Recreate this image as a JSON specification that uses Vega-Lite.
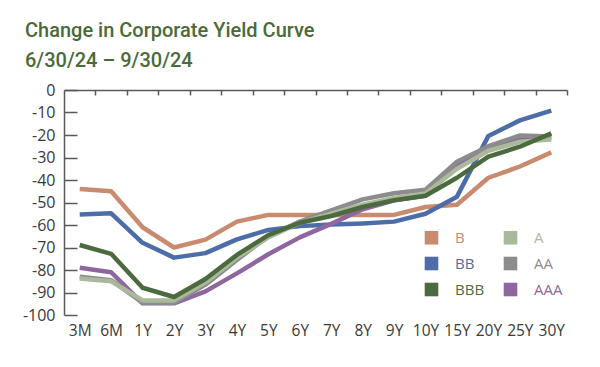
{
  "$schema": "https://vega.github.io/schema/vega-lite/v6.json",
  "autosize": "none",
  "width": 503,
  "height": 225,
  "padding": {"left": 64, "top": 90, "right": 33, "bottom": 52},
  "background": "white",
  "title": {
    "text": ["Change in Corporate Yield Curve", "6/30/24 – 9/30/24"],
    "anchor": "start",
    "frame": "group",
    "font": "Roboto",
    "fontSize": 20,
    "fontWeight": 500,
    "color": "#4a6a3a",
    "lineHeight": 30,
    "dx": -39,
    "dy": -11,
    "offset": 0
  },
  "config": {"view": {"stroke": null}},
  "data": {
    "values": [
      {"rating": "B", "tenor": "3M", "value": -44},
      {"rating": "B", "tenor": "6M", "value": -45},
      {"rating": "B", "tenor": "1Y", "value": -61},
      {"rating": "B", "tenor": "2Y", "value": -70},
      {"rating": "B", "tenor": "3Y", "value": -66.5},
      {"rating": "B", "tenor": "4Y", "value": -58.5},
      {"rating": "B", "tenor": "5Y", "value": -55.5},
      {"rating": "B", "tenor": "6Y", "value": -55.5},
      {"rating": "B", "tenor": "7Y", "value": -55.5},
      {"rating": "B", "tenor": "8Y", "value": -55.5},
      {"rating": "B", "tenor": "9Y", "value": -55.5},
      {"rating": "B", "tenor": "10Y", "value": -52},
      {"rating": "B", "tenor": "15Y", "value": -51},
      {"rating": "B", "tenor": "20Y", "value": -39},
      {"rating": "B", "tenor": "25Y", "value": -34},
      {"rating": "B", "tenor": "30Y", "value": -27.7},
      {"rating": "BB", "tenor": "3M", "value": -55.3},
      {"rating": "BB", "tenor": "6M", "value": -54.8},
      {"rating": "BB", "tenor": "1Y", "value": -67.9},
      {"rating": "BB", "tenor": "2Y", "value": -74.5},
      {"rating": "BB", "tenor": "3Y", "value": -72.5},
      {"rating": "BB", "tenor": "4Y", "value": -66.4},
      {"rating": "BB", "tenor": "5Y", "value": -62.2},
      {"rating": "BB", "tenor": "6Y", "value": -60.5},
      {"rating": "BB", "tenor": "7Y", "value": -59.8},
      {"rating": "BB", "tenor": "8Y", "value": -59.3},
      {"rating": "BB", "tenor": "9Y", "value": -58.5},
      {"rating": "BB", "tenor": "10Y", "value": -55},
      {"rating": "BB", "tenor": "15Y", "value": -47.4},
      {"rating": "BB", "tenor": "20Y", "value": -20.4},
      {"rating": "BB", "tenor": "25Y", "value": -13.5},
      {"rating": "BB", "tenor": "30Y", "value": -9.2},
      {"rating": "AAA", "tenor": "3M", "value": -79},
      {"rating": "AAA", "tenor": "6M", "value": -81},
      {"rating": "AAA", "tenor": "1Y", "value": -94.8},
      {"rating": "AAA", "tenor": "2Y", "value": -94.8},
      {"rating": "AAA", "tenor": "3Y", "value": -89.5},
      {"rating": "AAA", "tenor": "4Y", "value": -81.5},
      {"rating": "AAA", "tenor": "5Y", "value": -73},
      {"rating": "AAA", "tenor": "6Y", "value": -65.5},
      {"rating": "AAA", "tenor": "7Y", "value": -59.5},
      {"rating": "AAA", "tenor": "8Y", "value": -53},
      {"rating": "AAA", "tenor": "9Y", "value": -49},
      {"rating": "AAA", "tenor": "10Y", "value": -47},
      {"rating": "AAA", "tenor": "15Y", "value": -33.5},
      {"rating": "AAA", "tenor": "20Y", "value": -25.8},
      {"rating": "AAA", "tenor": "25Y", "value": -22},
      {"rating": "AAA", "tenor": "30Y", "value": -21},
      {"rating": "AA", "tenor": "3M", "value": -83},
      {"rating": "AA", "tenor": "6M", "value": -84.5},
      {"rating": "AA", "tenor": "1Y", "value": -94.5},
      {"rating": "AA", "tenor": "2Y", "value": -94.5},
      {"rating": "AA", "tenor": "3Y", "value": -86.5},
      {"rating": "AA", "tenor": "4Y", "value": -75.5},
      {"rating": "AA", "tenor": "5Y", "value": -65},
      {"rating": "AA", "tenor": "6Y", "value": -58.5},
      {"rating": "AA", "tenor": "7Y", "value": -53.5},
      {"rating": "AA", "tenor": "8Y", "value": -48.6},
      {"rating": "AA", "tenor": "9Y", "value": -45.9},
      {"rating": "AA", "tenor": "10Y", "value": -44.3},
      {"rating": "AA", "tenor": "15Y", "value": -31.9},
      {"rating": "AA", "tenor": "20Y", "value": -25},
      {"rating": "AA", "tenor": "25Y", "value": -20.2},
      {"rating": "AA", "tenor": "30Y", "value": -20.7},
      {"rating": "A", "tenor": "3M", "value": -83.8},
      {"rating": "A", "tenor": "6M", "value": -85},
      {"rating": "A", "tenor": "1Y", "value": -93.5},
      {"rating": "A", "tenor": "2Y", "value": -93.5},
      {"rating": "A", "tenor": "3Y", "value": -85.5},
      {"rating": "A", "tenor": "4Y", "value": -74.5},
      {"rating": "A", "tenor": "5Y", "value": -65.5},
      {"rating": "A", "tenor": "6Y", "value": -59},
      {"rating": "A", "tenor": "7Y", "value": -55},
      {"rating": "A", "tenor": "8Y", "value": -51},
      {"rating": "A", "tenor": "9Y", "value": -48},
      {"rating": "A", "tenor": "10Y", "value": -46},
      {"rating": "A", "tenor": "15Y", "value": -35},
      {"rating": "A", "tenor": "20Y", "value": -27},
      {"rating": "A", "tenor": "25Y", "value": -23},
      {"rating": "A", "tenor": "30Y", "value": -22},
      {"rating": "BBB", "tenor": "3M", "value": -68.9},
      {"rating": "BBB", "tenor": "6M", "value": -72.8},
      {"rating": "BBB", "tenor": "1Y", "value": -87.9},
      {"rating": "BBB", "tenor": "2Y", "value": -92},
      {"rating": "BBB", "tenor": "3Y", "value": -84},
      {"rating": "BBB", "tenor": "4Y", "value": -73.3},
      {"rating": "BBB", "tenor": "5Y", "value": -64.5},
      {"rating": "BBB", "tenor": "6Y", "value": -59},
      {"rating": "BBB", "tenor": "7Y", "value": -56},
      {"rating": "BBB", "tenor": "8Y", "value": -52},
      {"rating": "BBB", "tenor": "9Y", "value": -49},
      {"rating": "BBB", "tenor": "10Y", "value": -47},
      {"rating": "BBB", "tenor": "15Y", "value": -39},
      {"rating": "BBB", "tenor": "20Y", "value": -29.6},
      {"rating": "BBB", "tenor": "25Y", "value": -25.2},
      {"rating": "BBB", "tenor": "30Y", "value": -19.3}
    ]
  },
  "encoding": {
    "y": {
      "field": "value",
      "type": "quantitative",
      "scale": {"domain": [-100, 0], "nice": false, "zero": false},
      "axis": {
        "values": [0, -10, -20, -30, -40, -50, -60, -70, -80, -90, -100],
        "title": null,
        "grid": false,
        "domainColor": "#595959",
        "domainWidth": 1.5,
        "tickColor": "#595959",
        "tickWidth": 1.5,
        "tickSize": -13,
        "labelFont": "Open Sans",
        "labelFontSize": 16,
        "labelColor": "#3a3a3a",
        "labelPadding": 22,
        "labelExpr": "datum.value + ''"
      }
    }
  },
  "layer": [
    {
      "mark": {"type": "line", "strokeWidth": 4.5, "strokeJoin": "round"},
      "encoding": {
        "x": {
          "field": "tenor",
          "type": "ordinal",
          "sort": ["3M", "6M", "1Y", "2Y", "3Y", "4Y", "5Y", "6Y", "7Y", "8Y", "9Y", "10Y", "15Y", "20Y", "25Y", "30Y"],
          "scale": {"type": "point", "padding": 0.5},
          "axis": {
            "orient": "bottom",
            "title": null,
            "domain": false,
            "ticks": false,
            "grid": false,
            "labelAngle": 0,
            "labelFont": "Open Sans",
            "labelFontSize": 15.5,
            "labelColor": "#3a3a3a",
            "labelPadding": 8,
            "labelOverlap": false
          }
        },
        "color": {
          "field": "rating",
          "type": "nominal",
          "scale": {
            "domain": ["B", "BB", "BBB", "A", "AA", "AAA"],
            "range": ["#c98b70", "#4d6da8", "#4b6b3f", "#aab99c", "#8c8c8c", "#8e66a0"]
          },
          "legend": {
            "orient": "none",
            "legendX": 360,
            "legendY": 140,
            "columns": 2,
            "title": null,
            "padding": 0,
            "symbolType": "square",
            "symbolSize": 185,
            "symbolStrokeWidth": 0,
            "labelFont": "Open Sans",
            "labelFontSize": 15,
            "labelOffset": 16,
            "rowPadding": 10,
            "columnPadding": 18,
            "encode": {
              "symbols": {"update": {"fill": {"scale": "color", "field": "value"}, "strokeWidth": {"value": 0}}},
              "labels": {"update": {"fill": {"scale": "color", "field": "value"}}}
            }
          }
        }
      }
    },
    {
      "mark": {"type": "line", "opacity": 0},
      "encoding": {
        "x": {
          "field": "tenor",
          "type": "ordinal",
          "sort": ["3M", "6M", "1Y", "2Y", "3Y", "4Y", "5Y", "6Y", "7Y", "8Y", "9Y", "10Y", "15Y", "20Y", "25Y", "30Y"],
          "scale": {"type": "point", "padding": 0.5},
          "axis": {
            "orient": "top",
            "title": null,
            "labels": false,
            "grid": false,
            "domain": true,
            "domainColor": "#595959",
            "domainWidth": 1.5,
            "ticks": true,
            "tickColor": "#595959",
            "tickWidth": 1.5,
            "tickSize": -5,
            "tickOffset": 15.72
          }
        },
        "detail": {"field": "rating"}
      }
    }
  ],
  "resolve": {"axis": {"x": "independent"}}
}
